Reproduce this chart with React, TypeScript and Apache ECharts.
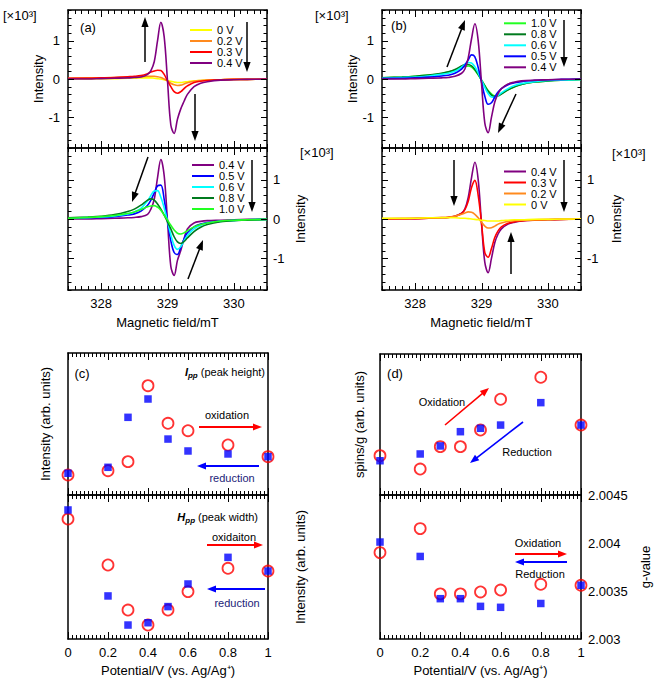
import React, { useEffect, useRef } from "react";
import * as echarts from "echarts";

const FONT = "Liberation Sans, Arial, sans-serif";

// Magnetic field sample positions (mT)
const FIELD = [327.5, 327.8, 328.0, 328.2, 328.4, 328.5, 328.6, 328.7, 328.75, 328.8, 328.85, 328.9, 328.95, 329.0, 329.05, 329.1, 329.15, 329.2, 329.25, 329.3, 329.4, 329.5, 329.6, 329.8, 330.0, 330.2, 330.5];

// (a) upper: oxidation 0 -> 0.4 V  (x10^3)
const A_TOP_0V = [0, 0, 0.01, 0.01, 0.02, 0.02, 0.03, 0.03, 0.03, 0.02, 0.01, 0, -0.02, -0.04, -0.06, -0.08, -0.09, -0.09, -0.08, -0.07, -0.05, -0.04, -0.03, -0.02, -0.01, -0.01, 0];
const A_TOP_02V = [0.02, 0.03, 0.03, 0.04, 0.05, 0.05, 0.06, 0.07, 0.07, 0.07, 0.06, 0.04, 0, -0.05, -0.11, -0.15, -0.17, -0.16, -0.13, -0.1, -0.06, -0.04, -0.03, -0.02, -0.01, -0.01, 0];
const A_TOP_03V = [0.02, 0.02, 0.03, 0.04, 0.06, 0.07, 0.09, 0.14, 0.18, 0.21, 0.23, 0.22, 0.12, -0.05, -0.2, -0.33, -0.37, -0.33, -0.25, -0.18, -0.09, -0.06, -0.04, -0.02, -0.01, -0.01, 0];
const A_TOP_04V = [0, 0, 0.01, 0.02, 0.03, 0.04, 0.05, 0.12, 0.22, 0.45, 1.0, 1.48, 1.1, -0.05, -1.2, -1.42, -1.05, -0.78, -0.58, -0.4, -0.2, -0.11, -0.07, -0.03, -0.02, -0.01, 0];

// (a) lower: oxidation 0.4 -> 1.0 V
const A_BOT_04V = [0, 0, 0.01, 0.02, 0.03, 0.04, 0.06, 0.12, 0.25, 0.5, 1.05, 1.51, 1.1, -0.05, -1.2, -1.43, -1.05, -0.8, -0.5, -0.25, -0.1, -0.06, -0.04, -0.03, -0.02, -0.01, 0];
const A_BOT_05V = [0.02, 0.03, 0.04, 0.06, 0.1, 0.13, 0.2, 0.35, 0.48, 0.66, 0.84, 0.86, 0.5, -0.05, -0.55, -0.85, -0.9, -0.72, -0.5, -0.35, -0.2, -0.13, -0.09, -0.05, -0.03, -0.02, -0.01];
const A_BOT_06V = [0.02, 0.04, 0.05, 0.08, 0.13, 0.18, 0.27, 0.46, 0.6, 0.71, 0.72, 0.55, 0.28, -0.05, -0.4, -0.67, -0.77, -0.7, -0.55, -0.42, -0.25, -0.16, -0.11, -0.06, -0.04, -0.02, -0.01];
const A_BOT_08V = [0.03, 0.05, 0.07, 0.11, 0.19, 0.25, 0.35, 0.48, 0.51, 0.48, 0.38, 0.25, 0.1, -0.07, -0.25, -0.45, -0.58, -0.62, -0.57, -0.48, -0.32, -0.21, -0.14, -0.07, -0.04, -0.03, -0.01];
const A_BOT_10V = [0.02, 0.04, 0.06, 0.09, 0.14, 0.18, 0.24, 0.31, 0.33, 0.34, 0.3, 0.22, 0.1, -0.03, -0.16, -0.28, -0.36, -0.38, -0.35, -0.3, -0.2, -0.14, -0.1, -0.05, -0.03, -0.02, -0.01];

// (b) upper: reduction 1.0 -> 0.4 V
const B_TOP_10V = [0.03, 0.05, 0.07, 0.1, 0.14, 0.18, 0.23, 0.3, 0.33, 0.34, 0.31, 0.23, 0.11, -0.03, -0.17, -0.3, -0.39, -0.44, -0.43, -0.38, -0.28, -0.2, -0.14, -0.08, -0.05, -0.03, -0.01];
const B_TOP_08V = [0.03, 0.05, 0.07, 0.1, 0.15, 0.19, 0.25, 0.34, 0.38, 0.38, 0.34, 0.25, 0.12, -0.03, -0.18, -0.32, -0.42, -0.46, -0.44, -0.39, -0.28, -0.2, -0.14, -0.08, -0.05, -0.03, -0.01];
const B_TOP_06V = [0.02, 0.04, 0.05, 0.08, 0.12, 0.15, 0.2, 0.31, 0.38, 0.43, 0.42, 0.32, 0.16, -0.03, -0.22, -0.38, -0.47, -0.48, -0.43, -0.36, -0.25, -0.17, -0.12, -0.07, -0.04, -0.03, -0.01];
const B_TOP_05V = [0.01, 0.02, 0.03, 0.05, 0.08, 0.1, 0.15, 0.26, 0.36, 0.5, 0.63, 0.58, 0.3, -0.08, -0.45, -0.66, -0.62, -0.47, -0.34, -0.25, -0.15, -0.1, -0.07, -0.04, -0.02, -0.01, 0];
const B_TOP_04V = [0, 0, 0.01, 0.02, 0.03, 0.04, 0.07, 0.15, 0.26, 0.55, 1.05, 1.44, 1.0, -0.1, -1.15, -1.4, -1.0, -0.6, -0.38, -0.25, -0.13, -0.08, -0.05, -0.03, -0.02, -0.01, 0];

// (b) lower: reduction 0.4 -> 0 V
const B_BOT_04V = [0, 0, 0.01, 0.02, 0.03, 0.04, 0.07, 0.15, 0.26, 0.55, 1.05, 1.44, 1.0, -0.1, -1.1, -1.36, -1.0, -0.6, -0.38, -0.25, -0.13, -0.08, -0.05, -0.03, -0.02, -0.01, 0];
const B_BOT_03V = [0, 0.01, 0.01, 0.02, 0.03, 0.04, 0.07, 0.14, 0.24, 0.45, 0.8, 0.98, 0.6, -0.1, -0.85, -0.97, -0.75, -0.47, -0.3, -0.2, -0.11, -0.07, -0.05, -0.03, -0.02, -0.01, 0];
const B_BOT_02V = [0.01, 0.01, 0.02, 0.03, 0.04, 0.05, 0.07, 0.12, 0.15, 0.18, 0.17, 0.12, 0.03, -0.08, -0.18, -0.23, -0.22, -0.18, -0.13, -0.1, -0.06, -0.04, -0.03, -0.02, -0.01, -0.01, 0];
const B_BOT_0V = [0.02, 0.02, 0.02, 0.03, 0.03, 0.03, 0.03, 0.02, 0.02, 0.01, 0, -0.01, -0.02, -0.03, -0.04, -0.05, -0.05, -0.05, -0.05, -0.04, -0.03, -0.02, -0.02, -0.01, -0.01, 0, 0];

// (c), (d) potentials
const POTENTIAL = [0, 0.2, 0.3, 0.4, 0.5, 0.6, 0.8, 1.0];
const C_IPP_OX = [14.1, 17.1, 23.5, 77.0, 50.5, 45.3, 35.2, 27.0];
const C_IPP_RED = [15.3, 19.5, 54.7, 67.6, 39.4, 31.0, 28.9, 27.0];
const C_HPP_OX = [83.3, 51.4, 20.1, 9.7, 20.1, 32.9, 49.1, 47.2];
const C_HPP_RED = [89.6, 29.9, 9.7, 11.3, 22.5, 38.2, 56.7, 47.2];
const D_SPINS_OX = [27.9, 18.4, 34.3, 34.3, 46.1, 67.9, 83.5, 49.6];
const D_SPINS_RED = [24.3, 29.1, 34.8, 44.9, 47.3, 49.6, 65.5, 49.6];
const D_G_OX = [2.0039, 2.00415, 2.00347, 2.00347, 2.00349, 2.00351, 2.00357, 2.00356];
const D_G_RED = [2.00401, 2.00386, 2.00342, 2.00342, 2.00334, 2.00333, 2.00337, 2.00356];

const C_YELLOW = "#ffff00";
const C_ORANGE = "#ff8a1e";
const C_RED = "#ff0000";
const C_PURPLE = "#800080";
const C_BLUE = "#0000ff";
const C_CYAN = "#00ffff";
const C_DGREEN = "#007a1e";
const C_LIME = "#22ff22";

// tick mark steps (axis decoration)
const FIELD_RANGE = [327.5, 330.5];
const FIELD_TICK_STEP = 0.1;
const EPR_Y_RANGE = [-1.8, 1.8];
const EPR_Y_TICK_STEP = 0.2;
const POT_RANGE = [0, 1];
const POT_TICK_STEP = 0.02;

const isMult = (v: number, m: number) => Math.abs(v / m - Math.round(v / m)) < 1e-6;
const stepsOf = (range: number[], step: number) => {
  const n = Math.round((range[1] - range[0]) / step);
  const out: number[] = [];
  for (let i = 0; i <= n; i++) out.push(+(range[0] + i * step).toFixed(4));
  return out;
};

// tick decoration inside the frame of a grid (both opposite edges)
function frameTicks(g: any, xRange: number[], xStep: number, xMajor: number, yRange?: number[], yStep?: number, yMajor?: number) {
  const els: any[] = [];
  const st = { stroke: "#000", lineWidth: 1 };
  stepsOf(xRange, xStep).forEach((v) => {
    const x = Math.round(g.left + ((v - xRange[0]) / (xRange[1] - xRange[0])) * g.width) + 0.5;
    const len = isMult(v, xMajor) ? 7 : 4;
    const yb = g.top + g.height, yt = g.top;
    els.push({ type: "line", z: 40, silent: true, shape: { x1: x, y1: yb, x2: x, y2: yb - len }, style: st });
    els.push({ type: "line", z: 40, silent: true, shape: { x1: x, y1: yt, x2: x, y2: yt + len }, style: st });
  });
  if (yRange && yStep && yMajor) {
    stepsOf(yRange, yStep).forEach((v) => {
      const y = Math.round(g.top + ((yRange[1] - v) / (yRange[1] - yRange[0])) * g.height) + 0.5;
      const len = isMult(v, yMajor) ? 6 : 3.5;
      const xl = g.left, xr = g.left + g.width;
      els.push({ type: "line", z: 40, silent: true, shape: { x1: xl, y1: y, x2: xl + len, y2: y }, style: st });
      els.push({ type: "line", z: 40, silent: true, shape: { x1: xr, y1: y, x2: xr - len, y2: y }, style: st });
    });
  }
  return els;
}

function buildOption() {
  const grids: any[] = [];
  const xAxes: any[] = [];
  const yAxes: any[] = [];
  const series: any[] = [];
  const legends: any[] = [];
  const tickEls: any[] = [];
  const nameStyle = { fontSize: 13, fontFamily: FONT, color: "#000" };
  const labelStyle = { fontSize: 13, fontFamily: FONT, color: "#000" };
  const axLine = { show: true, onZero: false, lineStyle: { color: "#000", width: 1.5 } };

  const eprPanels = [
    {
      g: { left: 68, top: 10, width: 199, height: 138 }, ySide: "left", showX: false, nameGap: 21,
      lines: [["0 V", A_TOP_0V, C_YELLOW], ["0.2 V", A_TOP_02V, C_ORANGE], ["0.3 V", A_TOP_03V, C_RED], ["0.4 V", A_TOP_04V, C_PURPLE]],
      legend: { left: 190, top: 24.5 },
    },
    {
      g: { left: 68, top: 148, width: 199, height: 142 }, ySide: "right", showX: true, nameGap: 27,
      lines: [["0.4 V", A_BOT_04V, C_PURPLE], ["0.5 V", A_BOT_05V, C_BLUE], ["0.6 V", A_BOT_06V, C_CYAN], ["0.8 V", A_BOT_08V, C_DGREEN], ["1.0 V", A_BOT_10V, C_LIME]],
      legend: { left: 192, top: 159.5 },
    },
    {
      g: { left: 382, top: 10, width: 199, height: 138 }, ySide: "left", showX: false, nameGap: 21,
      lines: [["1.0 V", B_TOP_10V, C_LIME], ["0.8 V", B_TOP_08V, C_DGREEN], ["0.6 V", B_TOP_06V, C_CYAN], ["0.5 V", B_TOP_05V, C_BLUE], ["0.4 V", B_TOP_04V, C_PURPLE]],
      legend: { left: 504, top: 17.8 },
    },
    {
      g: { left: 382, top: 148, width: 199, height: 142 }, ySide: "right", showX: true, nameGap: 29,
      lines: [["0.4 V", B_BOT_04V, C_PURPLE], ["0.3 V", B_BOT_03V, C_RED], ["0.2 V", B_BOT_02V, C_ORANGE], ["0 V", B_BOT_0V, C_YELLOW]],
      legend: { left: 504, top: 166 },
    },
  ];

  const intFmt = (v: number) => (Math.abs(v - Math.round(v)) < 1e-6 ? String(Math.round(v)) : "");

  eprPanels.forEach((p) => {
    const gi = grids.length;
    grids.push({ ...p.g, show: false });
    const xBase = {
      gridIndex: gi, type: "value", min: FIELD_RANGE[0], max: FIELD_RANGE[1], interval: 0.5,
      axisLine: axLine, axisTick: { show: false }, minorTick: { show: false },
      splitLine: { show: false }, minorSplitLine: { show: false },
    };
    const xi = xAxes.length;
    xAxes.push({
      ...xBase, position: "bottom",
      axisLabel: { show: p.showX, formatter: intFmt, margin: 7, ...labelStyle },
      name: p.showX ? "Magnetic field/mT" : "", nameLocation: "middle", nameGap: 26, nameTextStyle: nameStyle,
    });
    xAxes.push({ ...xBase, position: "top", axisLabel: { show: false } });
    const yBase = {
      gridIndex: gi, type: "value", min: EPR_Y_RANGE[0], max: EPR_Y_RANGE[1], interval: 0.2,
      axisLine: axLine, axisTick: { show: false }, splitLine: { show: false },
    };
    const yi = yAxes.length;
    yAxes.push({
      ...yBase, position: p.ySide,
      axisLabel: { show: true, formatter: intFmt, margin: p.ySide === "left" ? 8 : 6, ...labelStyle },
      name: "Intensity", nameLocation: "middle", nameRotate: 90, nameGap: p.nameGap, nameTextStyle: nameStyle,
    });
    yAxes.push({ ...yBase, position: p.ySide === "left" ? "right" : "left", axisLabel: { show: false } });
    p.lines.forEach(([name, vals, color]: any) => {
      series.push({
        type: "line", name, xAxisIndex: xi, yAxisIndex: yi,
        data: FIELD.map((x, i) => [x, vals[i]]),
        symbol: "none", showSymbol: false, smooth: 0.35,
        lineStyle: { color, width: 1.6 }, itemStyle: { color },
      });
    });
    tickEls.push(...frameTicks(p.g, FIELD_RANGE, FIELD_TICK_STEP, 1, EPR_Y_RANGE, EPR_Y_TICK_STEP, 1));
    legends.push({
      orient: "vertical", left: p.legend.left, top: p.legend.top,
      data: p.lines.map((l: any) => l[0]),
      icon: "rect", itemWidth: 22, itemHeight: 2, itemGap: 0, padding: 0,
      textStyle: { fontSize: 11, fontFamily: FONT, color: "#000", lineHeight: 11 },
      selectedMode: false,
    });
  });

  const scatterPanels = [
    { g: { left: 68, top: 353, width: 200, height: 142 }, showX: false, y: { min: 0, max: 100, side: "left", name: "Intensity (arb. units)", gap: 16 }, ox: C_IPP_OX, red: C_IPP_RED },
    { g: { left: 68, top: 495, width: 200, height: 144 }, showX: true, y: { min: 0, max: 100, side: "right", name: "Intensity (arb. units)", gap: 26 }, ox: C_HPP_OX, red: C_HPP_RED },
    { g: { left: 380, top: 354, width: 201, height: 141 }, showX: false, y: { min: 0, max: 100, side: "left", name: "spins/g (arb. units)", gap: 14 }, ox: D_SPINS_OX, red: D_SPINS_RED },
    { g: { left: 380, top: 495, width: 201, height: 144 }, showX: true, y: { min: 2.003, max: 2.0045, interval: 0.0005, side: "right", name: "g-value", gap: 58, labels: true }, ox: D_G_OX, red: D_G_RED },
  ];

  scatterPanels.forEach((p: any) => {
    const gi = grids.length;
    grids.push({ ...p.g, show: false });
    const xBase = {
      gridIndex: gi, type: "value", min: POT_RANGE[0], max: POT_RANGE[1], interval: 0.2,
      axisLine: axLine, axisTick: { show: false }, minorTick: { show: false },
      splitLine: { show: false }, minorSplitLine: { show: false },
    };
    const xi = xAxes.length;
    xAxes.push({
      ...xBase, position: "bottom",
      axisLabel: { show: p.showX, margin: 7, ...labelStyle },
      name: p.showX ? "Potential/V (vs. Ag/Ag\u207A)" : "", nameLocation: "middle", nameGap: 25, nameTextStyle: nameStyle,
    });
    xAxes.push({ ...xBase, position: "top", axisLabel: { show: false } });
    const yBase = {
      gridIndex: gi, type: "value", min: p.y.min, max: p.y.max, interval: p.y.interval,
      axisLine: axLine, axisTick: { show: false }, splitLine: { show: false },
    };
    const yi = yAxes.length;
    yAxes.push({
      ...yBase, position: p.y.side,
      axisLabel: p.y.labels
        ? { show: true, margin: 7, formatter: (v: number) => String(parseFloat(v.toFixed(4))), ...labelStyle }
        : { show: false },
      name: p.y.name, nameLocation: "middle", nameRotate: 90, nameGap: p.y.gap, nameTextStyle: nameStyle,
    });
    yAxes.push({ ...yBase, position: p.y.side === "left" ? "right" : "left", axisLabel: { show: false } });
    series.push({
      type: "scatter", name: "oxidation", xAxisIndex: xi, yAxisIndex: yi, clip: false,
      data: POTENTIAL.map((x, i) => [x, p.ox[i]]),
      symbol: "circle", symbolSize: 11,
      itemStyle: { color: "rgba(255,255,255,0)", borderColor: C_RED, borderWidth: 1.8 }, z: 3,
    });
    series.push({
      type: "scatter", name: "reduction", xAxisIndex: xi, yAxisIndex: yi, clip: false,
      data: POTENTIAL.map((x, i) => [x, p.red[i]]),
      symbol: "rect", symbolSize: 7.5,
      itemStyle: { color: C_BLUE }, z: 4,
    });
    tickEls.push(...frameTicks(p.g, POT_RANGE, POT_TICK_STEP, 0.2));
  });

  const txt = (x: number, y: number, text: string, size = 13, align = "center", fill = "#000", extra: any = {}) => ({
    type: "text", x, y, z: 50,
    style: {
      text, fontSize: size, fontFamily: FONT, fill,
      align, verticalAlign: "middle", textAlign: align, textVerticalAlign: "middle", ...extra,
    },
  });
  const arrow = (x1: number, y1: number, x2: number, y2: number, color: string, w = 1.5, hl = 10, hw = 3.6) => {
    const dx = x2 - x1, dy = y2 - y1, L = Math.hypot(dx, dy);
    const ux = dx / L, uy = dy / L;
    const bx = x2 - ux * hl, by = y2 - uy * hl;
    const px = -uy * hw, py = ux * hw;
    return [
      { type: "line", z: 50, shape: { x1, y1, x2: bx + ux, y2: by + uy }, style: { stroke: color, lineWidth: w } },
      { type: "polygon", z: 50, shape: { points: [[x2, y2], [bx + px, by + py], [bx - px, by - py]] }, style: { fill: color } },
    ];
  };

  const richPP = (main: string, rest: string) => ({
    text: `{b|${main}}{s|pp}{n|${rest}}`,
    rich: {
      b: { fontSize: 11, fontFamily: FONT, fontWeight: "bold", fontStyle: "italic", fill: "#000" },
      s: { fontSize: 8, fontFamily: FONT, fontWeight: "bold", fontStyle: "italic", fill: "#000", padding: [6, 0, 0, 0] },
      n: { fontSize: 11, fontFamily: FONT, fill: "#000" },
    },
  });

  const NAVY = "#1c1c78";

  const graphics: any[] = [
    ...tickEls,
    txt(3, 15, "[×10³]", 13, "left"),
    txt(315, 15, "[×10³]", 13, "left"),
    txt(300, 152, "[×10³]", 13, "left"),
    txt(612, 153, "[×10³]", 13, "left"),
    txt(88, 27, "(a)", 13),
    txt(399, 25, "(b)", 13),
    ...arrow(145, 62, 145, 17, "#000"),
    ...arrow(247, 22, 247, 72, "#000"),
    ...arrow(195, 94, 195, 141, "#000"),
    ...arrow(148, 157, 132, 202, "#000"),
    ...arrow(252, 160, 252, 212, "#000"),
    ...arrow(188, 279, 203, 240, "#000"),
    ...arrow(447, 67, 465, 20, "#000"),
    ...arrow(564, 20, 564, 67, "#000"),
    ...arrow(516, 94, 498, 133, "#000"),
    ...arrow(454, 160, 454, 206, "#000"),
    ...arrow(564, 160, 564, 212, "#000"),
    ...arrow(511, 274, 511, 232, "#000"),
    // (c)
    txt(82, 373, "(c)", 13),
    { type: "text", x: 265, y: 372, z: 50, style: { ...richPP("I", " (peak height)"), align: "right", verticalAlign: "middle", textAlign: "right", textVerticalAlign: "middle" } },
    txt(227, 415, "oxidation", 11),
    ...arrow(199, 427, 262, 427, C_RED, 2, 9, 3.5),
    ...arrow(259, 466, 197, 466, C_BLUE, 2, 9, 3.5),
    txt(232, 478, "reduction", 11, "center", NAVY),
    { type: "text", x: 258, y: 517, z: 50, style: { ...richPP("H", " (peak width)"), align: "right", verticalAlign: "middle", textAlign: "right", textVerticalAlign: "middle" } },
    txt(234, 537, "oxidaiton", 11),
    ...arrow(207, 545, 263, 545, C_RED, 2, 9, 3.5),
    ...arrow(265, 589, 207, 589, C_BLUE, 2, 9, 3.5),
    txt(237, 603, "reduction", 11, "center", NAVY),
    // (d)
    txt(395, 373, "(d)", 13),
    txt(442, 402, "Oxidation", 11),
    ...arrow(445, 425, 489, 388, C_RED, 1.6, 9, 3.5),
    ...arrow(523, 422, 470, 463, C_BLUE, 1.6, 9, 3.5),
    txt(527, 452, "Reduction", 11),
    txt(538, 543, "Oxidation", 11),
    ...arrow(515, 554, 567, 554, C_RED, 2, 9, 3.5),
    ...arrow(567, 562, 515, 562, C_BLUE, 2, 9, 3.5),
    txt(540, 574, "Reduction", 11),
  ];

  return {
    animation: false,
    backgroundColor: "#fff",
    textStyle: { fontFamily: FONT },
    grid: grids,
    xAxis: xAxes,
    yAxis: yAxes,
    legend: legends,
    series,
    graphic: { elements: graphics },
  };
}

export default function App() {
  const ref = useRef<HTMLDivElement>(null);
  useEffect(() => {
    if (!ref.current) return;
    const chart = echarts.init(ref.current, undefined, { renderer: "svg" });
    chart.setOption(buildOption() as any);
    return () => chart.dispose();
  }, []);
  return (
    <div
      ref={ref}
      style={{ position: "absolute", left: 0, top: 0, width: 655, height: 683, background: "#fff" }}
    />
  );
}
